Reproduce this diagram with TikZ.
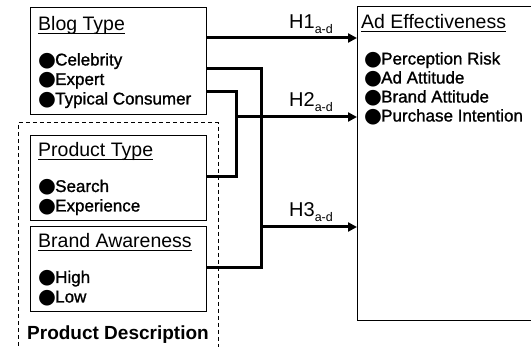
\documentclass[tikz,border=0pt]{standalone}
\usepackage{fontspec}
\setmainfont{Liberation Sans}
\newfontfamily\djv{DejaVu Sans}
\newfontfamily\itmfont[FakeBold=1.2]{Liberation Sans}
\usetikzlibrary{arrows.meta,calc}
\newcommand{\bul}{\makebox[17pt][l]{\smash{\raisebox{-0.6pt}{\djv\fontsize{20.5}{20.5}\selectfont ●}}}}
\tikzset{
  box/.style={draw, line width=1.3pt, anchor=north west, inner sep=0pt},
  ttl/.style={anchor=base west, inner sep=0pt, font=\fontsize{19.5}{19.5}\selectfont},
  itm/.style={anchor=base west, inner sep=0pt, font=\itmfont\fontsize{17}{17}\selectfont},
  conn/.style={line width=3pt, line join=miter},
  arr/.style={line width=3pt, -{Triangle[length=9pt,width=9pt]}},
  hlab/.style={anchor=base west, inner sep=0pt, font=\fontsize{20}{20}\selectfont},
  uline/.style={line width=1.1pt}
}
\newcommand{\hsub}[1]{\raisebox{-4.5pt}{\fontsize{12.5}{12.5}\selectfont #1}}
\begin{document}
\begin{tikzpicture}[x=1pt,y=-1pt]
\useasboundingbox (0,0) rectangle (531,347);
\clip (0,0) rectangle (531,347);
\fill[white] (0,0) rectangle (531,347);
% dashed group
\draw[dashed, line width=1pt, dash pattern=on 4pt off 3pt] (18,360) -- (18,123) -- (218,123) -- (218,360);
% boxes
\node[box, minimum width=176pt, minimum height=107pt] (blog) at (30,7) {};
\node[box, minimum width=176pt, minimum height=85pt] (ptype) at (30,135) {};
\node[box, minimum width=176pt, minimum height=85pt] (brand) at (30,226) {};
\node[box, minimum width=200pt, minimum height=314pt] (ad) at (357,6) {};
% titles
\node[ttl] (t1) at (38,31) {Blog Type};
\node[ttl] (t2) at (38,157) {Product Type};
\node[ttl] (t3) at (38,248) {Brand Awareness};
\node[ttl] (t4) at (361,29) {Ad Effectiveness};
\foreach \t in {t1,t2,t3,t4}{
  \draw[uline] ($(\t.base west)+(0,2.5)$) -- ($(\t.base east)+(0,2.5)$);
}
% items
\node[itm] (b1) at (38,65.5) {\bul Celebrity};
\node[itm] (b2) at (38,85) {\bul Expert};
\node[itm] (b3) at (38,104.5) {\bul Typical Consumer};
\node[itm] (p1) at (38,192) {\bul Search};
\node[itm] (p2) at (38,211.5) {\bul Experience};
\node[itm] (w1) at (38,283) {\bul High};
\node[itm] (w2) at (38,302.5) {\bul Low};
\node[itm] (a1) at (364,64.5) {\bul Perception Risk};
\node[itm] (a2) at (364,83.5) {\bul Ad Attitude};
\node[itm] (a3) at (364,102.5) {\bul Brand Attitude};
\node[itm] (a4) at (364,121.5) {\bul Purchase Intention};
\node[anchor=base west, inner sep=0pt, font=\bfseries\fontsize{19}{19}\selectfont] (pd) at (27,339.5) {Product Description};
% junction coordinates
\coordinate (r1) at (0,38);
\coordinate (j1t) at (236,92);
\coordinate (j1b) at (236,177);
\coordinate (j2t) at (261,69);
\coordinate (j2b) at (261,268);
\coordinate (h2s) at (236,117);
\coordinate (h3s) at (261,227);
% connectors
\draw[conn] (blog.east |- j1t) -- (j1t) -- (j1b) -- (ptype.east |- j1b);
\draw[conn] (blog.east |- j2t) -- (j2t) -- (j2b) -- (brand.east |- j2b);
\draw[arr] (blog.east |- r1) -- (ad.west |- r1);
\draw[arr] (h2s) -- (ad.west |- h2s);
\draw[arr] (h3s) -- (ad.west |- h3s);
% labels
\node[hlab] (l1) at (289,29) {H1\hsub{a-d}};
\node[hlab] (l2) at (289,107) {H2\hsub{a-d}};
\node[hlab] (l3) at (289,217) {H3\hsub{a-d}};
\end{tikzpicture}
\end{document}
